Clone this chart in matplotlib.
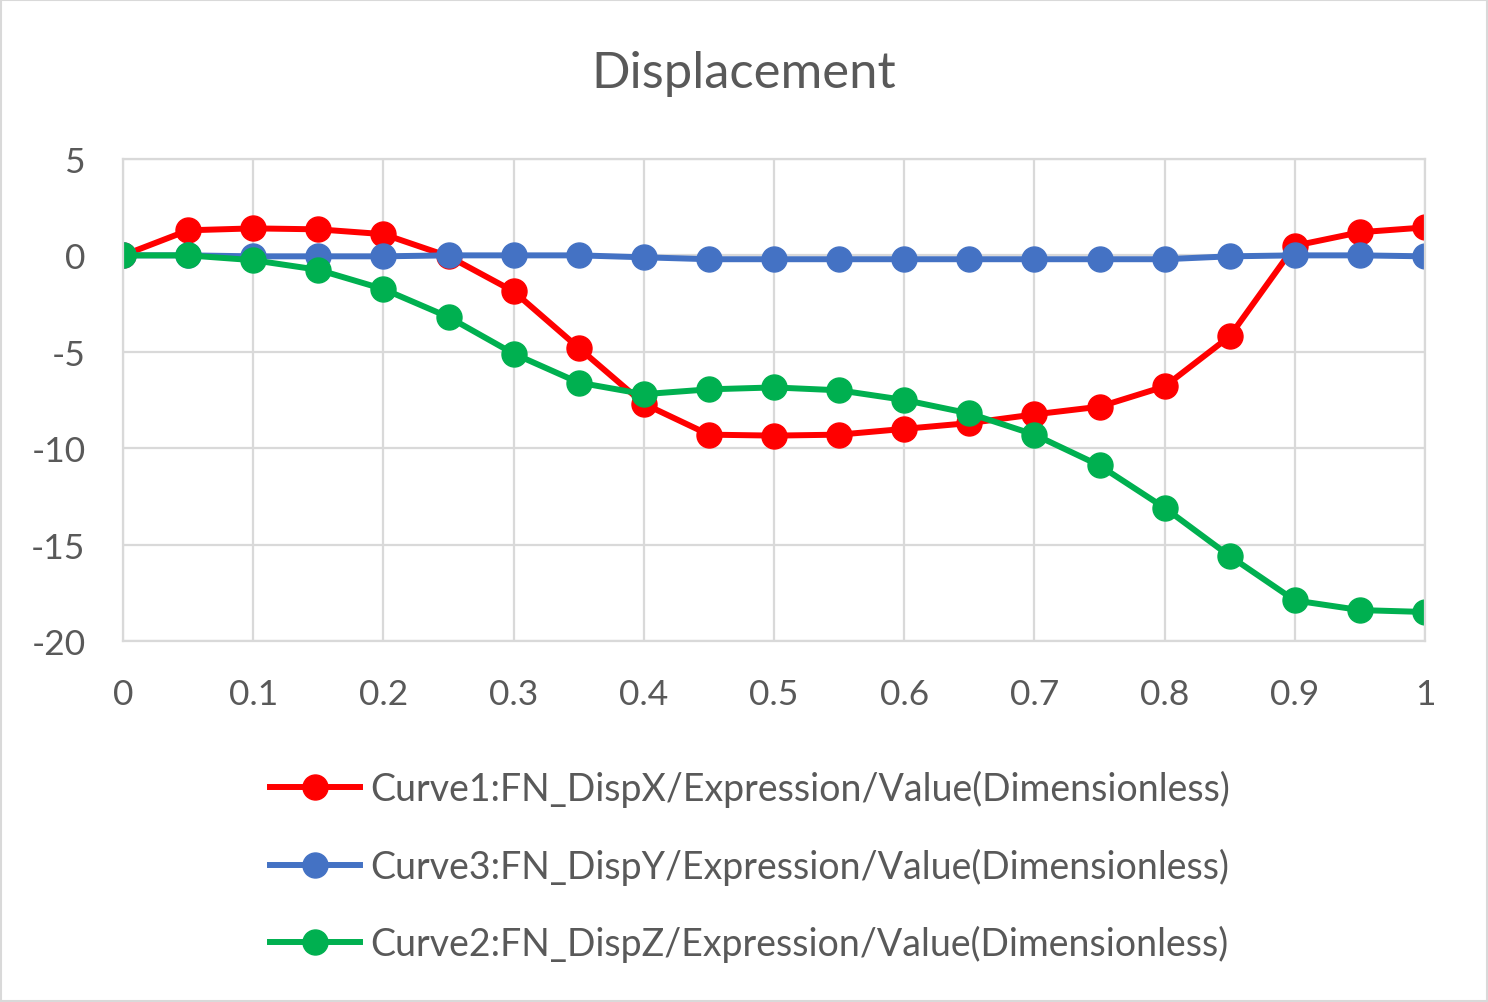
import numpy as np
import matplotlib
matplotlib.use('Agg')
import matplotlib.pyplot as plt
from matplotlib.patches import Rectangle

plt.rcParams['font.family'] = ['Lato', 'DejaVu Sans']
plt.rcParams['axes.unicode_minus'] = False

t = [0, 0.05, 0.1, 0.15, 0.2, 0.25, 0.3, 0.35, 0.4, 0.45, 0.5,
     0.55, 0.6, 0.65, 0.7, 0.75, 0.8, 0.85, 0.9, 0.95, 1.0]
disp_x = [0, 1.3, 1.4, 1.35, 1.1, -0.05, -1.87, -4.8, -7.7, -9.3, -9.35,
          -9.3, -9.0, -8.7, -8.25, -7.85, -6.8, -4.2, 0.5, 1.2, 1.45]
disp_y = [0, 0, -0.05, -0.05, -0.05, 0, 0, 0, -0.1, -0.2, -0.2,
          -0.2, -0.2, -0.2, -0.2, -0.2, -0.2, -0.05, 0, 0, -0.05]
disp_z = [0, 0, -0.25, -0.75, -1.75, -3.2, -5.1, -6.6, -7.2, -6.95, -6.85,
          -7.0, -7.5, -8.2, -9.3, -10.9, -13.1, -15.6, -17.9, -18.4, -18.5]
labels = ['Curve1:FN_DispX/Expression/Value(Dimensionless)',
          'Curve3:FN_DispY/Expression/Value(Dimensionless)',
          'Curve2:FN_DispZ/Expression/Value(Dimensionless)']
colors = ['#FF0000', '#4472C4', '#00B050']

txt = '#595959'
grid = '#D9D9D9'

fig = plt.figure(figsize=(14.88, 10.03), dpi=100)
ax = fig.add_axes([0.0827, 0.36, 0.875, 0.4805])

for ys, lab, c in zip([disp_x, disp_y, disp_z], labels, colors):
    ax.plot(t, ys, color=c, lw=4.3, marker='o', ms=18, label=lab)

ax.set_xlim(0, 1)
ax.set_ylim(-20, 5)
ax.set_xticks(np.arange(0, 1.01, 0.1))
ax.set_xticklabels(['0', '0.1', '0.2', '0.3', '0.4', '0.5', '0.6', '0.7', '0.8', '0.9', '1'])
ax.set_yticks([5, 0, -5, -10, -15, -20])
ax.grid(True, color=grid, lw=1.6)
ax.set_axisbelow(True)
for s in ax.spines.values():
    s.set_color(grid)
    s.set_linewidth(1.6)
ax.tick_params(length=0, labelsize=25.5, labelcolor=txt)
ax.tick_params(axis='x', pad=27)
ax.tick_params(axis='y', pad=27)

fig.text(0.5, 0.926, 'Displacement', ha='center', va='center', fontsize=36.5, color=txt)

leg = fig.legend(loc='upper center', bbox_to_anchor=(0.504, 0.265), frameon=False,
                 fontsize=27, handlelength=2.4, handletextpad=0.27, labelspacing=1.08)
for tx in leg.get_texts():
    tx.set_color(txt)

fig.patches.append(Rectangle((0.001, 0.001), 0.998, 0.998, transform=fig.transFigure,
                             fill=False, edgecolor=grid, lw=1.5))

fig.savefig('out.png', dpi=100)
